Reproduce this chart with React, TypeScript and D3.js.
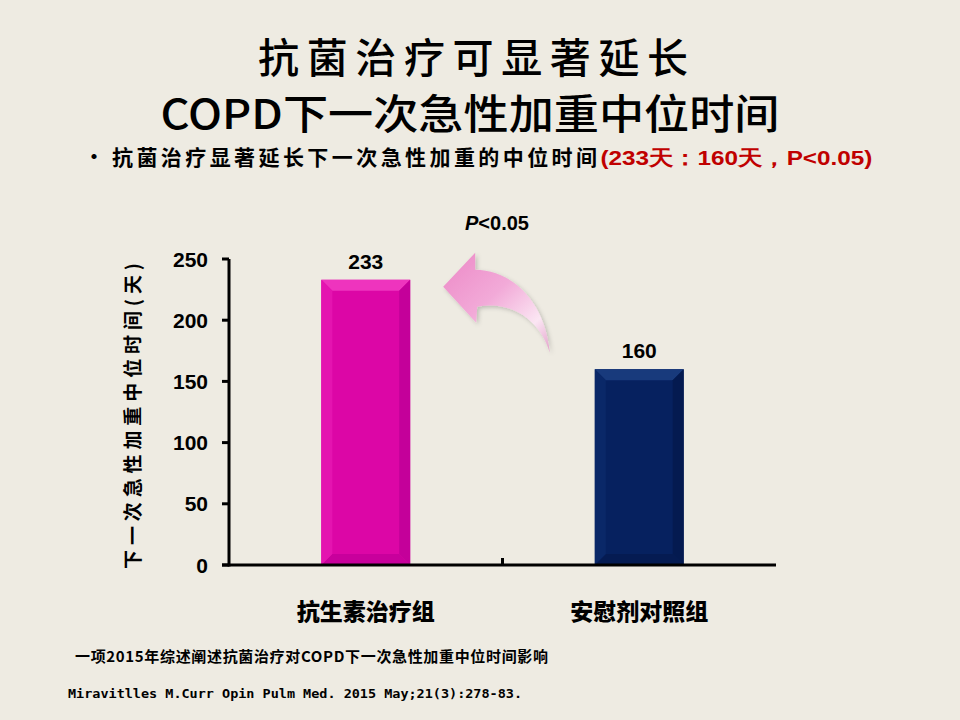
import React from "react";
import * as d3 from "d3";

const categories = ["抗生素治疗组", "安慰剂对照组"];
const values = [233, 160];
const yTicks = [0, 50, 100, 150, 200, 250];
const titleLine1 = "抗菌治疗可显著延长";
const titleLine2 = "COPD下一次急性加重中位时间";
const bulletText = "抗菌治疗显著延长下一次急性加重的中位时间";
const bulletRed = "(233天：160天，P<0.05)";
const yAxisTitle = "下一次急性加重中位时间(天)";
const footnote = "一项2015年综述阐述抗菌治疗对COPD下一次急性加重中位时间影响";
const citation = "Miravitlles M.Curr Opin Pulm Med. 2015 May;21(3):278-83.";

const W = 960;
const H = 720;
const x0 = 229;
const x1 = 776;
const yBottom = 565;
const yTop = 259;

const barColors = [
  { main: "#DC06A6", top: "#EE34BE", side: "#C4009A", bottom: "#C8009C", left: "#E414B0" },
  { main: "#06215F", top: "#183A7C", side: "#041A50", bottom: "#051B52", left: "#0A2868" },
];

const cjk = "'Noto Sans CJK SC', 'Noto Sans', sans-serif";
const latin = "'Liberation Sans', Arial, sans-serif";

export default function App() {
  const x = d3.scaleBand<string>().domain(categories).range([x0, x1]).paddingInner(0.675).paddingOuter(0.3375);
  const y = d3.scaleLinear().domain([0, 250]).range([yBottom, yTop]);
  const bw = x.bandwidth();
  const bev = 11;

  const bars = categories.map((c, i) => {
    const bx = x(c)!;
    const by = y(values[i]);
    const bb = y(0);
    const col = barColors[i];
    const pts = (arr: number[][]) => arr.map((p) => p.join(",")).join(" ");
    return (
      <g key={c}>
        <rect x={bx} y={by} width={bw} height={bb - by} fill={col.main} />
        <polygon points={pts([[bx, by], [bx + bw, by], [bx + bw - bev, by + bev], [bx + bev, by + bev]])} fill={col.top} />
        <polygon points={pts([[bx + bw, by], [bx + bw, bb], [bx + bw - bev, bb - bev], [bx + bw - bev, by + bev]])} fill={col.side} />
        <polygon points={pts([[bx, bb], [bx + bw, bb], [bx + bw - bev, bb - bev], [bx + bev, bb - bev]])} fill={col.bottom} />
        <polygon points={pts([[bx, by], [bx + bev, by + bev], [bx + bev, bb - bev], [bx, bb]])} fill={col.left} />
        <text x={bx + bw / 2} y={by - 11} textAnchor="middle" fontFamily={latin} fontWeight={700} fontSize={21} fill="#000">
          {values[i]}
        </text>
        <text x={bx + bw / 2} y={620} textAnchor="middle" fontFamily={cjk} fontWeight={900} fontSize={23} fill="#000">
          {c}
        </text>
      </g>
    );
  });

  // decorative arrow positioned relative to bars
  const b1r = x(categories[0])! + bw;
  const b2l = x(categories[1])!;
  const tx = b1r + 33;
  const ty = y(values[0]) + 7;
  const arrowPath = [
    `M${tx},${ty}`,
    `L${tx + 32},${ty - 34}`,
    `L${tx + 32},${ty - 17}`,
    `C${tx + 67},${ty - 17} ${tx + 102},${ty + 13} ${b2l - 45},${ty + 66}`,
    `C${tx + 97},${ty + 33} ${tx + 67},${ty + 13} ${tx + 34},${ty + 20}`,
    `L${tx + 33},${ty + 36}`,
    "Z",
  ].join(" ");

  return (
    <svg width={W} height={H} style={{ position: "absolute", left: 0, top: 0 }}>
      <defs>
        <linearGradient id="arrowGrad" x1="0" y1="0" x2="1" y2="1">
          <stop offset="0" stopColor="#EC88C6" />
          <stop offset="0.45" stopColor="#F2AAD8" />
          <stop offset="0.78" stopColor="#FBE6F3" />
          <stop offset="1" stopColor="#E2A0CA" />
        </linearGradient>
        <filter id="sh" x="-20%" y="-20%" width="140%" height="140%">
          <feDropShadow dx="2" dy="2" stdDeviation="2" floodColor="#000" floodOpacity="0.2" />
        </filter>
      </defs>
      <rect x={0} y={0} width={W} height={H} fill="#EEEBE2" />

      <text x={473} y={73} textAnchor="middle" fontFamily={cjk} fontWeight={500} fontSize={41} textLength={430} lengthAdjust="spacing" fill="#000">
        {titleLine1}
      </text>
      <text x={470} y={129} textAnchor="middle" fontFamily={cjk} fontWeight={500} fontSize={41} textLength={619} lengthAdjust="spacingAndGlyphs" fill="#000">
        {titleLine2}
      </text>
      <text x={84} y={164} fontFamily={cjk} fontWeight={700} fontSize={20} fill="#000">•</text>
      <text x={112} y={165} fontFamily={cjk} fontWeight={700} fontSize={21} fill="#000">
        <tspan textLength={485} lengthAdjust="spacing">{bulletText}</tspan>
        <tspan fill="#C00000" fontFamily={latin} textLength={272} lengthAdjust="spacingAndGlyphs">{bulletRed}</tspan>
      </text>

      <text x={497} y={230} textAnchor="middle" fontFamily={latin} fontWeight={700} fontSize={20} fill="#000">
        <tspan fontStyle="italic">P</tspan>
        {"<0.05"}
      </text>

      <path d={arrowPath} fill="url(#arrowGrad)" filter="url(#sh)" />

      {bars}

      {/* Y axis */}
      <line x1={x0} x2={x0} y1={yTop} y2={yBottom + 1.5} stroke="#000" strokeWidth={3} />
      {yTicks.map((t) => (
        <g key={t}>
          <line x1={x0 - 7} x2={x0} y1={y(t)} y2={y(t)} stroke="#000" strokeWidth={3} />
          <text x={208} y={y(t) + 7.5} textAnchor="end" fontFamily={latin} fontWeight={700} fontSize={21} fill="#000">
            {t}
          </text>
        </g>
      ))}
      {/* X axis */}
      <line x1={x0 - 7} x2={x1} y1={yBottom} y2={yBottom} stroke="#000" strokeWidth={3} />
      {categories.slice(1).map((c) => (
        <line key={c} x1={x(c)! - x.step() * x.paddingOuter()} x2={x(c)! - x.step() * x.paddingOuter()} y1={yBottom} y2={yBottom - 7} stroke="#000" strokeWidth={3} />
      ))}

      <text
        transform={`translate(140, 416) rotate(-90)`}
        textAnchor="middle"
        fontFamily={cjk}
        fontWeight={700}
        fontSize={19}
        textLength={306}
        lengthAdjust="spacing"
        fill="#000"
      >
        {yAxisTitle}
      </text>

      <text x={75} y={662} fontFamily={cjk} fontWeight={700} fontSize={15} textLength={473} lengthAdjust="spacing" fill="#000">
        {footnote}
      </text>
      <text x={68} y={698} fontFamily="'DejaVu Sans Mono', monospace" fontWeight={700} fontSize={13} textLength={454} lengthAdjust="spacingAndGlyphs" fill="#000">
        {citation}
      </text>
    </svg>
  );
}
